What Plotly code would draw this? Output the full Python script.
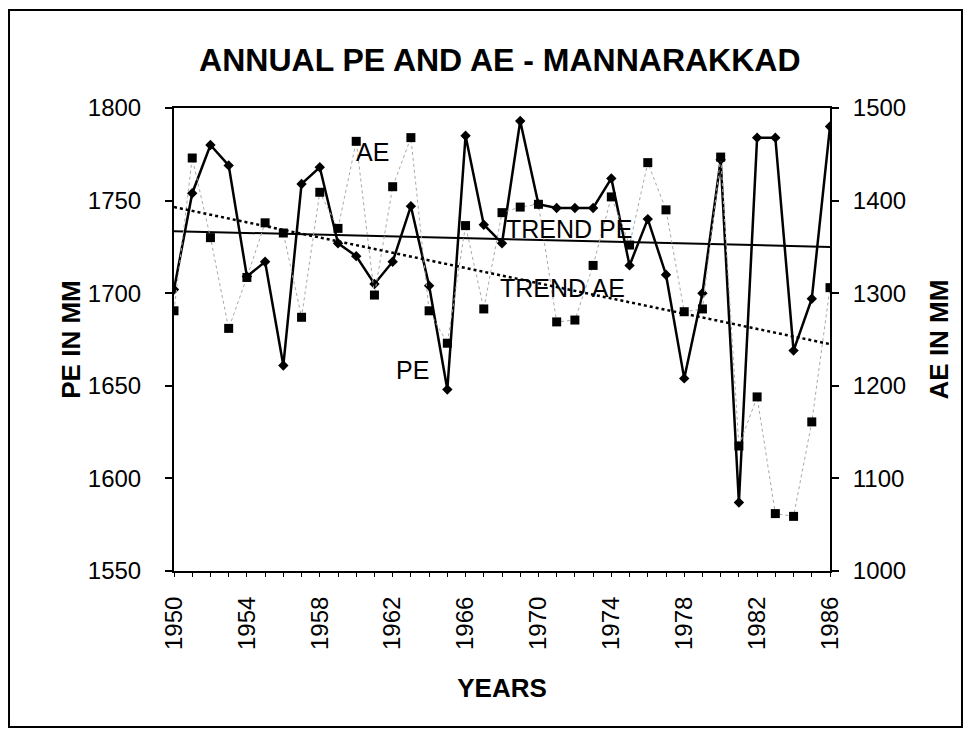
import plotly.graph_objects as go

years = list(range(1950, 1987))

# annual potential evapotranspiration (left axis, mm)
pe = [1702, 1754, 1780, 1769, 1709, 1717, 1661, 1759, 1768, 1727,
      1720, 1705, 1717, 1747, 1704, 1648, 1785, 1737, 1727, 1793,
      1748, 1746, 1746, 1746, 1762, 1715, 1740, 1710, 1654, 1700,
      1772, 1587, 1784, 1784, 1669, 1697, 1790]

# annual actual evapotranspiration (right axis, mm)
ae = [1281, 1446, 1360, 1262, 1317, 1376, 1365, 1274, 1409, 1370,
      1464, 1298, 1415, 1468, 1281, 1246, 1373, 1283, 1387, 1393,
      1396, 1269, 1271, 1330, 1404, 1352, 1441, 1390, 1280, 1283,
      1447, 1135, 1188, 1062, 1059, 1161, 1306]

trend_years = [1950, 1986]
trend_pe = [1733.5, 1725]
trend_ae = [1393, 1245]

FONT = 'Arial, Liberation Sans, sans-serif'

fig = go.Figure()

fig.add_trace(go.Scatter(
    x=years, y=ae, name='AE', yaxis='y2', mode='lines+markers',
    line=dict(color='#a8a8a8', width=1, dash='dot'),
    marker=dict(symbol='square', size=9, color='black')
))
fig.add_trace(go.Scatter(
    x=trend_years, y=trend_ae, name='TREND AE', yaxis='y2', mode='lines',
    line=dict(color='black', width=2.5, dash='dot')
))
fig.add_trace(go.Scatter(
    x=years, y=pe, name='PE', mode='lines+markers',
    line=dict(color='black', width=2.5),
    marker=dict(symbol='diamond', size=8, color='black')
))
fig.add_trace(go.Scatter(
    x=trend_years, y=trend_pe, name='TREND PE', mode='lines',
    line=dict(color='black', width=2)
))

labels = [
    ('AE', 1959.9, 1776),
    ('PE', 1962.1, 1658.5),
    ('TREND PE', 1968.1, 1734.7),
    ('TREND AE', 1967.8, 1702.8),
]
for text, x, y in labels:
    fig.add_annotation(x=x, y=y, text=text, showarrow=False,
                       xanchor='left', yanchor='middle',
                       font=dict(size=25, color='black'))

axis_common = dict(
    showline=True, linecolor='black', linewidth=2,
    ticks='outside', tickcolor='black', showgrid=False, zeroline=False,
    tickfont=dict(size=24, color='black'),
)

# the page body adds an 8px margin on every side, so keep the figure
# inside the window
fig.update_layout(
    width=955, height=721,
    margin=dict(l=166, r=133, t=100, b=158),
    paper_bgcolor='white', plot_bgcolor='white',
    font=dict(family=FONT, color='black'),
    showlegend=False,
    title=dict(
        text='<b>ANNUAL PE AND AE - MANNARAKKAD</b>',
        font=dict(size=32, color='black'),
        x=0.515, xanchor='center', y=1 - 52 / 721, yanchor='middle'
    ),
    xaxis=dict(
        axis_common, range=[1950, 1986], tick0=1950, dtick=1,
        ticklabelstep=4, ticklen=4, tickwidth=1, tickangle=-90,
        mirror=True, ticklabelstandoff=10,
        title=dict(text='<b>YEARS</b>', font=dict(size=26), standoff=30)
    ),
    yaxis=dict(
        axis_common, range=[1550, 1800], dtick=50, ticklen=7, tickwidth=1.5,
        ticklabelstandoff=19,
        title=dict(text='<b>PE IN MM</b>', font=dict(size=26), standoff=0)
    ),
    yaxis2=dict(
        axis_common, range=[1000, 1500], dtick=100, ticklen=7,
        tickwidth=1.5, overlaying='y', side='right', ticklabelstandoff=9,
        title=dict(text='<b>AE IN MM</b>', font=dict(size=26), standoff=25)
    ),
    shapes=[dict(
        type='rect', xref='paper', yref='paper',
        x0=-0.2515, x1=1.2012, y0=-0.3369, y1=1.2117,
        line=dict(color='black', width=2), fillcolor='rgba(0,0,0,0)'
    )]
)

fig.write_html('out.html')
